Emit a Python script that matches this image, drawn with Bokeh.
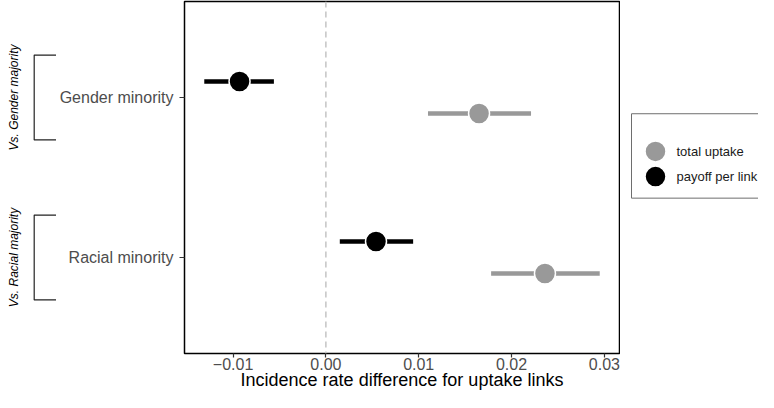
import math
from bokeh.plotting import figure
from bokeh.models import Range1d, FixedTicker, Span
from bokeh.layouts import row
from bokeh.embed import file_html
from bokeh.resources import INLINE
from bokeh.core.properties import value

# ---- data ----
groups = ["Racial minority", "Gender minority"]
group_pos = [1, 2]
comparisons = ["Vs. Racial majority", "Vs. Gender majority"]

uptake_est = [0.0236, 0.0165]
uptake_lo = [0.0178, 0.0110]
uptake_hi = [0.0295, 0.0221]

payoff_est = [0.0054, -0.0093]
payoff_lo = [0.0015, -0.0131]
payoff_hi = [0.0094, -0.0056]

x_ticks = [-0.01, 0.0, 0.01, 0.02, 0.03]
x_tick_labels = ["\u22120.01", "0.00", "0.01", "0.02", "0.03"]
x_title = "Incidence rate difference for uptake links"
legend_labels = ["total uptake", "payoff per link"]

# ---- style ----
FONT = "Liberation Sans"
GRAY = "#999999"
BLACK = "#000000"
legend_colors = [GRAY, BLACK]
DODGE = 0.1

all_vals = uptake_lo + uptake_hi + payoff_lo + payoff_hi
lo, hi = min(all_vals), max(all_vals)
pad = 0.05 * (hi - lo)
x_range = Range1d(lo - pad, hi + pad)
y_range = Range1d(0.4, 2.6)

FIG_H = 392
TOP_B = 1
BOT_B = 39

# ---- main panel ----
main = figure(width=564, height=FIG_H, x_range=x_range, y_range=y_range,
              output_backend="svg", toolbar_location=None,
              min_border_left=128, min_border_right=1,
              min_border_top=TOP_B, min_border_bottom=BOT_B)
main.grid.visible = False
main.outline_line_color = "black"
main.outline_line_width = 1.5
main.background_fill_color = "white"
main.border_fill_color = "white"

xa = main.xaxis[0]
xa.ticker = FixedTicker(ticks=x_ticks)
xa.major_label_overrides = {t: l for t, l in zip(x_ticks, x_tick_labels)}
xa.axis_label = x_title
xa.axis_label_text_font = FONT
xa.axis_label_text_font_size = "18px"
xa.axis_label_text_font_style = "normal"
xa.axis_label_text_color = "black"
xa.axis_label_standoff = -3
ya = main.yaxis[0]
ya.ticker = FixedTicker(ticks=group_pos)
ya.major_label_overrides = {p: g for p, g in zip(group_pos, groups)}
for ax in (xa, ya):
    ax.axis_line_color = None
    ax.major_tick_line_color = "#333333"
    ax.major_tick_line_width = 1.2
    ax.major_tick_in = 0
    ax.minor_tick_line_color = None
    ax.major_label_text_font = FONT
    ax.major_label_text_font_size = "16px"
    ax.major_label_text_color = "#4d4d4d"
xa.major_tick_out = 4
xa.major_label_standoff = 0
ya.major_tick_out = 5
ya.major_label_standoff = 6

main.add_layout(Span(location=0, dimension="height", line_color="#c4c4c4",
                     line_width=1.5, line_dash="6 4"))

y_up = [p - DODGE for p in group_pos]
y_pay = [p + DODGE for p in group_pos]

main.segment(x0=uptake_lo, y0=y_up, x1=uptake_hi, y1=y_up, line_color=GRAY, line_width=4.5)
main.segment(x0=payoff_lo, y0=y_pay, x1=payoff_hi, y1=y_pay, line_color=BLACK, line_width=4.5)
main.scatter(x=uptake_est, y=y_up, size=21, fill_color=GRAY, line_color="white", line_width=1.5)
main.scatter(x=payoff_est, y=y_pay, size=21, fill_color=BLACK, line_color="white", line_width=1.5)

# ---- left brackets ----
left = figure(width=56, height=FIG_H, x_range=Range1d(0, 56), y_range=y_range,
              output_backend="svg", toolbar_location=None,
              min_border_left=0, min_border_right=0,
              min_border_top=TOP_B, min_border_bottom=BOT_B)
left.axis.visible = False
left.grid.visible = False
left.outline_line_color = None
left.border_fill_color = "white"
left.background_fill_color = "white"

HALF = 0.265
BX, ARM = 33.7, 56
xs = [[ARM, BX, BX, ARM] for _ in group_pos]
ys = [[c + HALF, c + HALF, c - HALF, c - HALF] for c in group_pos]
left.multi_line(xs=xs, ys=ys, line_color="#222222", line_width=1.2)
left.text(x=[13.7] * len(group_pos), y=group_pos, text=comparisons, angle=math.pi / 2,
          text_align="center", text_baseline="middle", text_font=value(FONT),
          text_font_style="italic", text_font_size="12px", text_color="black")

# ---- legend panel (pixel coordinates, y downward) ----
LW = 758 - 56 - 564
leg = figure(width=LW, height=FIG_H, x_range=Range1d(0, LW), y_range=Range1d(FIG_H, 0),
             output_backend="svg", toolbar_location=None,
             min_border_left=0, min_border_right=0, min_border_top=0, min_border_bottom=0)
leg.axis.visible = False
leg.grid.visible = False
leg.outline_line_color = None
leg.border_fill_color = "white"
leg.background_fill_color = "white"

BOX_L, BOX_T, BOX_B = 11, 125, 219
ITEM_Y = [167, 195]
leg.segment(x0=[BOX_L, BOX_L, BOX_L], y0=[BOX_T, BOX_B, BOX_T],
            x1=[LW, LW, BOX_L], y1=[BOX_T, BOX_B, BOX_B],
            line_color="#6e6e6e", line_width=1)
leg.scatter(x=[BOX_L + 24] * 2, y=ITEM_Y, size=21, fill_color=legend_colors,
            line_color="white", line_width=1.5)
leg.text(x=[BOX_L + 45] * 2, y=ITEM_Y, text=legend_labels, text_align="left",
         text_baseline="middle", text_font=value(FONT), text_font_size="13px",
         text_color="#1a1a1a")

layout = row(left, main, leg)
open("out.html", "w").write(file_html(layout, INLINE))
